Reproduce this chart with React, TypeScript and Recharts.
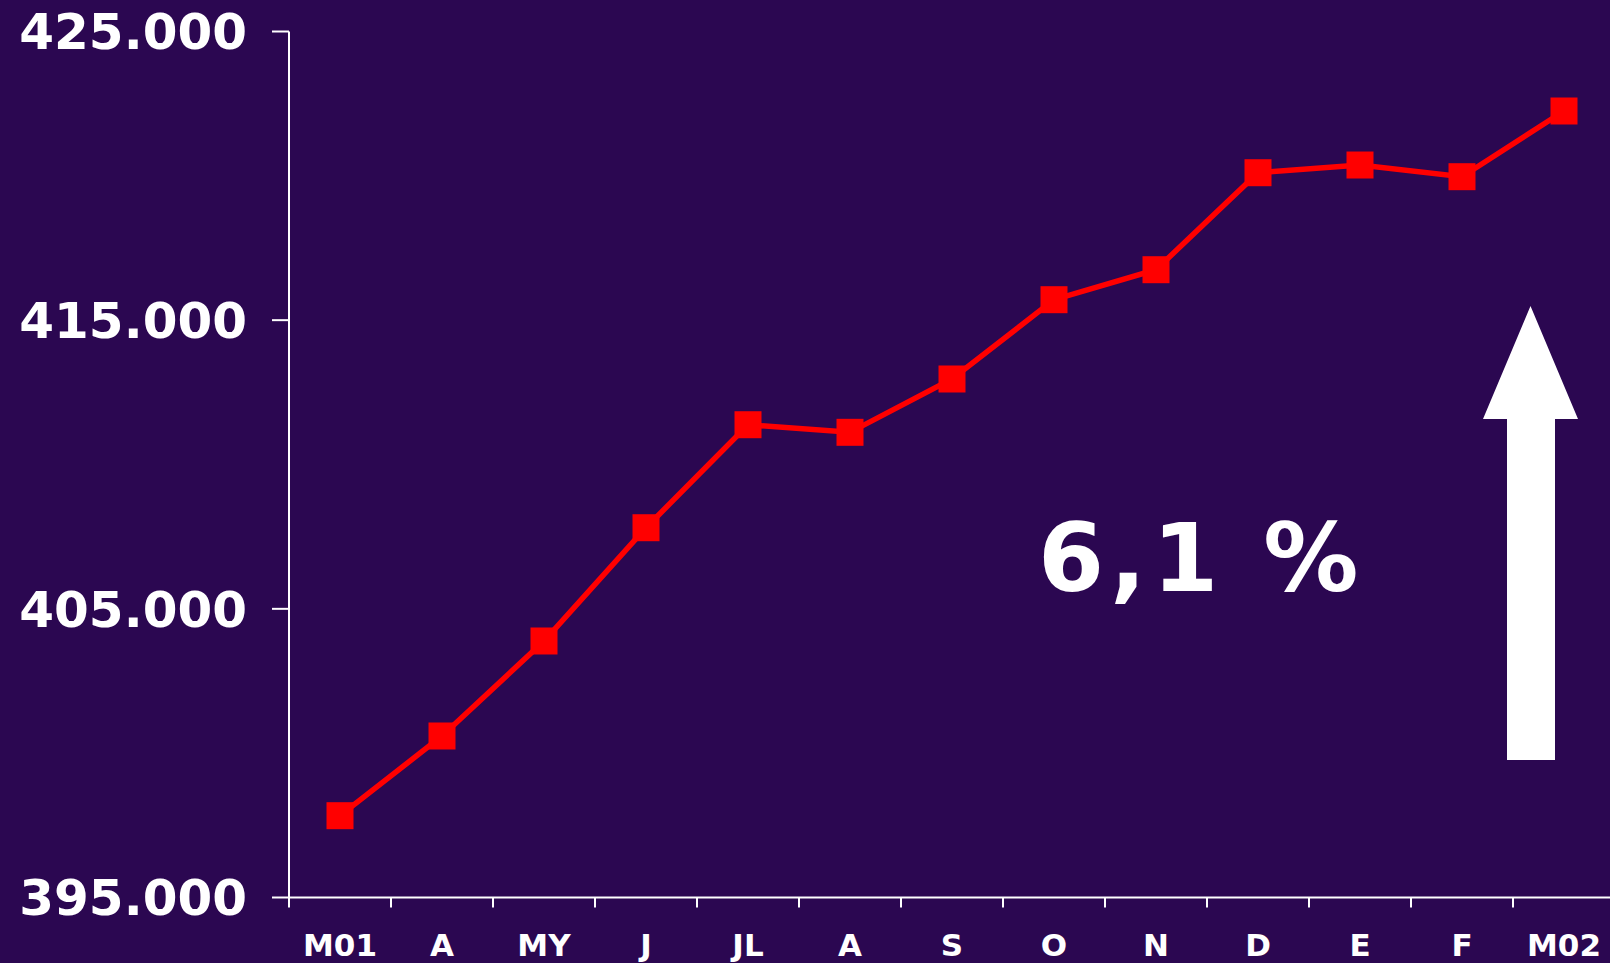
import React from 'react';
import { LineChart, Line, XAxis, YAxis } from 'recharts';

const months = ['M01', 'A', 'MY', 'J', 'JL', 'A', 'S', 'O', 'N', 'D', 'E', 'F', 'M02'];
const values = [397834, 400595, 403886, 407810, 411378, 411115, 412962, 415709, 416748, 420108, 420375, 419970, 422246];
const yTicks = [395000, 405000, 415000, 425000];
const yDomain = [395000, 425000];
const growthLabel = '6,1 %';

const data = months.map((m, i) => ({ idx: i, m, v: values[i] }));

const BG = '#2B0751';
const RED = '#FF0000';
const FONT = '"DejaVu Sans", Verdana, sans-serif';

const CHART_W = 1615;
const CHART_H = 963;
const Y_AXIS_W = 289;
const HALF_BAND = (CHART_W - Y_AXIS_W) / months.length / 2;

const fmt = (v: number) => `${Math.round(v / 1000)}.000`;

const XTick = (props: any) => {
  const { x, y, payload } = props;
  const bx = x - HALF_BAND;
  return (
    <g>
      <line x1={bx} x2={bx} y1={y - 10} y2={y} stroke="#fff" strokeWidth={2} />
      <text x={x} y={y + 48} textAnchor="middle" fill="#fff" fontSize={31} fontWeight="bold" fontFamily={FONT}>
        {months[payload.value]}
      </text>
    </g>
  );
};

const SquareDot = (props: any) => {
  const { cx, cy } = props;
  if (cx == null || cy == null) return null;
  return <rect x={cx - 13.5} y={cy - 13.5} width={27} height={27} fill={RED} />;
};

export default function App() {
  return (
    <div style={{ position: 'fixed', left: 0, top: 0, width: 1610, height: 963, overflow: 'hidden', background: BG }}>
      <LineChart width={CHART_W} height={CHART_H} data={data} margin={{ top: 31.5, right: 0, bottom: 0, left: 0 }}>
        <XAxis
          dataKey="idx"
          type="category"
          padding={{ left: HALF_BAND, right: HALF_BAND }}
          axisLine={{ stroke: '#fff', strokeWidth: 2 }}
          tickLine={false}
          tickSize={10}
          tickMargin={0}
          height={65.5}
          interval={0}
          tick={<XTick />}
        />
        <YAxis
          type="number"
          domain={yDomain}
          ticks={yTicks}
          width={Y_AXIS_W}
          tickSize={17}
          tickMargin={25}
          axisLine={{ stroke: '#fff', strokeWidth: 2 }}
          tickLine={{ stroke: '#fff', strokeWidth: 2 }}
          tickFormatter={fmt}
          tick={{ fill: '#fff', fontSize: 50, fontWeight: 'bold', fontFamily: FONT }}
          allowDataOverflow
        />
        <Line
          type="linear"
          dataKey="v"
          stroke={RED}
          strokeWidth={5.5}
          dot={<SquareDot />}
          activeDot={false}
          isAnimationActive={false}
        />
      </LineChart>
      <svg width={1610} height={963} style={{ position: 'absolute', left: 0, top: 0, pointerEvents: 'none' }}>
        <text x={1038} y={591} fill="#fff" fontSize={95} fontWeight="bold" fontFamily={FONT} letterSpacing={6}>
          {growthLabel}
        </text>
        <polygon
          points="1530.5,306 1578,419 1555,419 1555,760 1507,760 1507,419 1483,419"
          fill="#fff"
        />
      </svg>
    </div>
  );
}
